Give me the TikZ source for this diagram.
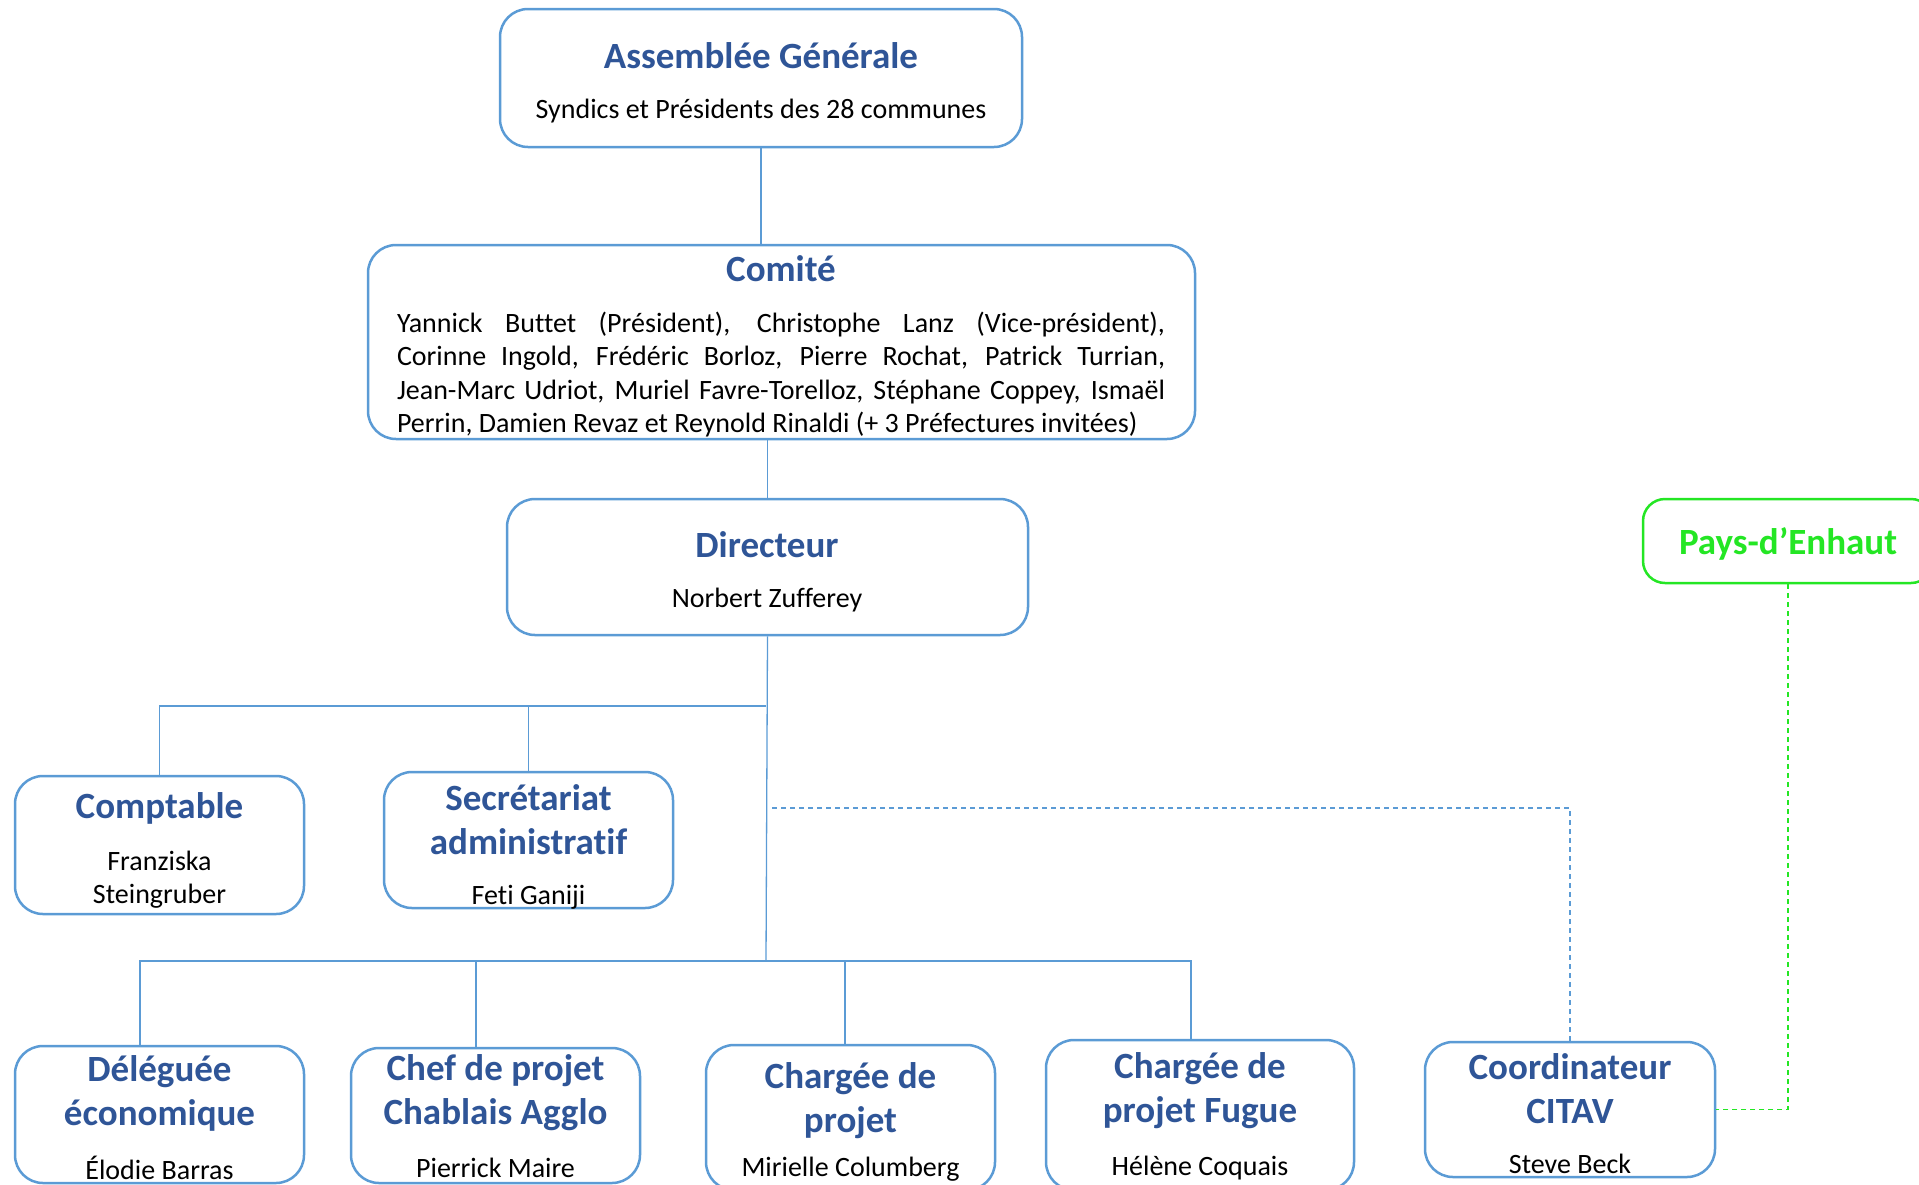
\documentclass[tikz,border=0pt]{standalone}
\usepackage{fontspec}
\setmainfont[Ligatures=NoCommon]{Carlito}
\usepackage{xcolor}
\usetikzlibrary{arrows.meta, calc, positioning}

\definecolor{frameblue}{RGB}{91,155,213}
\definecolor{titleblue}{RGB}{47,85,151}
\definecolor{paysgreen}{RGB}{36,230,36}

\tikzset{
  box/.style={draw=frameblue, line width=2.5pt, rounded corners=28pt, inner sep=0pt},
  gbox/.style={draw=paysgreen, line width=2.5pt, rounded corners=22pt, inner sep=0pt},
  boxtitle/.style={text=titleblue, font=\fontsize{37}{44}\selectfont\bfseries, align=center, inner sep=0pt, yshift=-2pt},
  person/.style={font=\fontsize{28}{33.4}\selectfont, align=center, inner sep=0pt, yshift=-2.5pt},
  link/.style={draw=frameblue, line width=1.3pt},
  dashlink/.style={draw=frameblue, line width=1.3pt, dash pattern=on 5pt off 4pt},
  greenlink/.style={draw=paysgreen, line width=1.3pt, dash pattern=on 5pt off 4pt}
}

\begin{document}
\begin{tikzpicture}[x=1pt, y=-1pt]
\useasboundingbox (0,0) rectangle (1919,1184);

% Boxes
\node[box, minimum width=522pt, minimum height=138pt] (ag) at (761,78) {};
\node[box, minimum width=827pt, minimum height=194pt] (com) at (781.5,342) {};
\node[box, minimum width=521pt, minimum height=136pt] (dir) at (767.5,567) {};
\node[gbox, minimum width=290pt, minimum height=84pt] (pays) at (1788,541) {};
\node[box, minimum width=289pt, minimum height=138pt] (cpt) at (159.5,845) {};
\node[box, minimum width=289pt, minimum height=136pt] (sec) at (528.5,840) {};
\node[box, minimum width=289pt, minimum height=137pt] (dlg) at (159.5,1114.5) {};
\node[box, minimum width=289pt, minimum height=135pt] (chf) at (495.5,1115.5) {};
\node[box, minimum width=289pt, minimum height=145pt] (chg) at (850.5,1117.5) {};
\node[box, minimum width=308pt, minimum height=150pt] (fug) at (1200,1115) {};
\node[box, minimum width=290pt, minimum height=135pt] (cit) at (1570,1109.5) {};

% Texts
\node[boxtitle] (agT) at (761,54) {Assemblée Générale};
\node[person] (agN) at (761,109) {Syndics et Présidents des 28 communes};
\node[boxtitle] (comT) at (781,267) {Comité};
\node[person, text width=768pt, align=justify] (comN) at (781,372) {\hyphenpenalty=10000
  Yannick Buttet (Président), Christophe Lanz (Vice-président),\linebreak
  Corinne Ingold, Frédéric Borloz, Pierre Rochat, Patrick Turrian,\linebreak
  Jean-Marc Udriot, Muriel Favre-Torelloz, Stéphane Coppey, Ismaël\linebreak
  Perrin, Damien Revaz et Reynold Rinaldi (+ 3 Préfectures invitées)};
\node[boxtitle] (dirT) at (767,543) {Directeur};
\node[person] (dirN) at (767,598) {Norbert Zufferey};
\node[boxtitle, text=paysgreen] (paysT) at (1788,542) {Pays-d’Enhaut};
\node[boxtitle] (cptT) at (159.5,806) {Comptable};
\node[person] (cptN) at (159.5,877) {Franziska\\Steingruber};
\node[boxtitle] (secT) at (528.5,818) {Secrétariat\\administratif};
\node[person] (secN) at (528.5,895) {Feti Ganiji};
\node[boxtitle] (dlgT) at (159.5,1091) {Déléguée\\économique};
\node[person] (dlgN) at (159.5,1165) {Élodie Barras};
\node[boxtitle] (chfT) at (495.5,1091) {Chef de projet\\Chablais Agglo};
\node[person] (chfN) at (495.5,1165) {Pierrick Maire};
\node[boxtitle] (chgT) at (850.5,1099) {Chargée de\\projet};
\node[person] (chgN) at (850.5,1167) {Mirielle Columberg};
\node[boxtitle] (fugT) at (1200,1089) {Chargée de\\projet Fugue};
\node[person] (fugN) at (1200,1166) {Hélène Coquais};
\node[boxtitle] (citT) at (1570,1087) {Coordinateur\\CITAV};
\node[person] (citN) at (1570,1161) {Steve Beck};

% Bus points
\coordinate (bus1) at (766,706);
\coordinate (bus2) at (766,961);
\coordinate (dsh) at (772,808);

% Connectors
\draw[link] (ag.south) -- (ag.south |- com.north);
\draw[link] (dir.north |- com.south) -- (dir.north);
\draw[link] (dir.south) -- (bus2);
\draw[link] (cpt.north) |- (bus1);
\draw[link] (sec.north) -- (sec.north |- bus1);
\draw[link] ([xshift=-19.5pt]dlg.north) |- (bus2);
\draw[link] ([xshift=-9pt]fug.north) |- (bus2);
\draw[link] ([xshift=-19.5pt]chf.north) -- ([xshift=-19.5pt]chf.north |- bus2);
\draw[link] ([xshift=-5.5pt]chg.north) -- ([xshift=-5.5pt]chg.north |- bus2);
\draw[dashlink] (dsh) -| (cit.north);
\draw[greenlink] (pays.south) |- (cit.east);
\end{tikzpicture}
\end{document}
